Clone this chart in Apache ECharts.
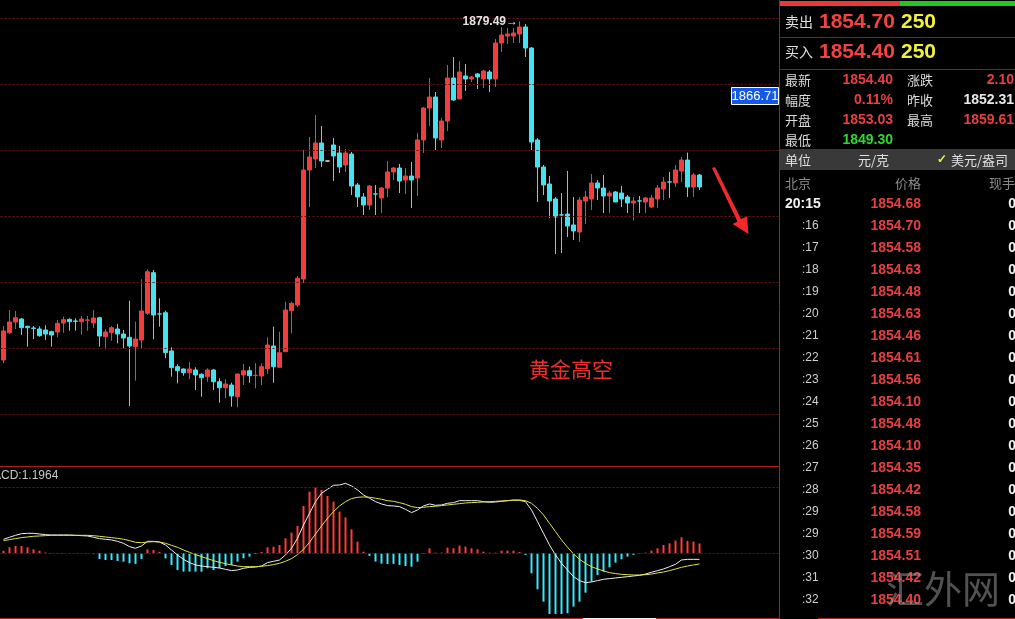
<!DOCTYPE html>
<html><head><meta charset="utf-8">
<script src="https://cdn.jsdelivr.net/npm/echarts/dist/echarts.min.js"></script>
<style>html,body{margin:0;padding:0;background:#000;overflow:hidden}#c{width:1015px;height:619px}</style>
</head><body><div id="c"></div>
<script>
// ---------- candle data (price) ----------
const opens = [1828.18,1832.32,1833.94,1834.39,1833.29,1833.03,1832.88,1832.73,1832.47,1832.42,
1833.79,1834.35,1834.09,1833.98,1834.22,1833.79,1834.59,1831.71,1832.32,1832.88,
1832.12,1831.62,1830.20,1831.21,1835.26,1841.41,1835.17,1835.35,1829.55,1827.17,
1826.82,1826.26,1826.67,1826.02,1825.65,1826.67,1824.89,1823.98,1824.39,1822.62,
1825.91,1826.56,1825.84,1825.76,1826.86,1830.30,1827.08,1829.44,1835.65,1836.52,
1840.45,1856.97,1858.64,1861.06,1858.33,1860.76,1859.55,1857.73,1859.39,1854.70,
1852.88,1851.67,1853.35,1852.73,1854.24,1856.67,1857.27,1855.45,1856.06,1855.76,
1861.52,1866.36,1868.03,1861.52,1864.39,1870.91,1867.73,1871.21,1870.76,1871.52,
1870.76,1871.82,1870.76,1876.21,1877.27,1877.27,1877.58,1878.64,1875.45,1861.52,
1857.42,1854.85,1852.58,1850.17,1850.30,1848.64,1847.58,1852.27,1852.58,1855.00,
1854.24,1853.03,1853.64,1853.48,1852.88,1851.97,1852.29,1852.12,1851.36,1852.58,
1854.09,1855.17,1855.00,1856.82,1858.48,1854.39,1856.21];
const closes = [1832.58,1833.94,1834.59,1833.08,1833.08,1832.97,1831.86,1832.12,1831.97,1833.74,
1834.29,1833.98,1834.05,1834.39,1834.24,1834.55,1831.82,1832.42,1833.08,1832.12,
1831.52,1830.30,1831.36,1835.61,1841.56,1835.00,1835.15,1829.29,1827.02,1826.56,
1826.26,1826.82,1825.91,1825.50,1826.67,1824.89,1823.98,1824.55,1822.73,1826.06,
1826.56,1825.80,1825.86,1827.17,1830.45,1827.17,1829.29,1835.76,1836.77,1840.56,
1856.97,1858.94,1861.06,1858.33,1858.33,1859.09,1857.42,1859.55,1854.55,1852.88,
1851.67,1854.55,1853.33,1854.24,1856.67,1857.27,1855.30,1856.06,1855.45,1861.52,
1866.36,1868.03,1861.82,1864.39,1870.91,1867.58,1871.82,1870.76,1871.06,1871.06,
1871.97,1870.76,1876.21,1877.42,1877.58,1877.73,1878.64,1875.45,1861.21,1857.42,
1854.70,1852.27,1849.85,1850.15,1848.48,1847.73,1852.42,1852.88,1855.00,1854.24,
1853.03,1853.48,1852.12,1852.58,1851.97,1852.27,1852.27,1852.73,1852.73,1854.24,
1855.15,1855.15,1856.97,1858.48,1854.39,1856.21,1854.40];
const lows = [1827.73,1832.12,1832.88,1831.97,1830.20,1831.36,1831.71,1831.21,1830.20,1831.62,
1832.32,1832.62,1832.62,1832.02,1832.62,1833.03,1830.20,1829.80,1831.11,1830.71,
1829.95,1821.21,1825.05,1829.85,1835.00,1831.32,1833.23,1828.44,1825.65,1824.65,
1825.80,1825.26,1823.64,1822.62,1824.89,1823.64,1821.71,1822.38,1821.11,1821.02,
1824.39,1824.74,1823.89,1824.39,1826.06,1824.74,1827.08,1829.44,1832.23,1836.21,
1839.85,1851.36,1857.27,1857.42,1858.33,1855.30,1856.52,1856.67,1853.18,1851.36,
1850.15,1850.91,1850.15,1850.45,1852.88,1855.45,1853.48,1853.33,1851.21,1853.03,
1859.55,1863.64,1860.00,1860.30,1862.88,1867.42,1867.73,1868.94,1870.30,1869.24,
1869.39,1868.79,1869.55,1874.85,1876.06,1876.21,1876.21,1874.09,1860.00,1852.12,
1853.18,1849.70,1844.24,1844.39,1846.82,1846.36,1846.06,1848.79,1850.91,1852.42,
1850.45,1850.45,1852.12,1851.36,1850.45,1849.30,1850.45,1850.45,1851.21,1851.21,
1852.42,1852.73,1854.39,1855.15,1852.88,1852.88,1853.94];
const highs = [1833.33,1835.76,1835.61,1834.55,1833.38,1833.33,1833.29,1833.44,1832.62,1834.24,
1834.74,1834.50,1834.50,1834.85,1834.85,1835.76,1834.74,1832.88,1833.33,1833.64,
1832.73,1837.17,1833.98,1840.41,1841.92,1841.82,1837.53,1835.65,1830.11,1827.53,
1826.92,1827.88,1827.08,1826.17,1826.92,1826.82,1825.41,1825.26,1824.74,1826.10,
1827.58,1827.17,1827.68,1827.68,1831.62,1833.23,1832.47,1837.02,1837.02,1840.91,
1860.00,1861.97,1865.30,1863.64,1858.33,1861.82,1860.61,1860.15,1859.70,1855.00,
1853.48,1854.70,1854.70,1854.39,1858.33,1857.42,1857.88,1857.27,1858.18,1862.58,
1866.52,1870.91,1868.79,1864.85,1872.88,1874.09,1873.48,1873.03,1871.21,1871.67,
1872.12,1872.12,1876.82,1878.64,1878.48,1878.48,1879.49,1879.09,1875.60,1861.82,
1857.73,1856.06,1852.88,1853.48,1856.82,1852.88,1852.88,1853.79,1856.36,1855.45,
1856.21,1853.79,1853.79,1854.55,1853.18,1852.88,1853.03,1852.88,1853.18,1854.70,
1855.91,1856.67,1857.73,1858.94,1859.61,1856.52,1856.36];
const priceGridLines = [1820,1830,1840,1850,1860,1870,1880];
const cursorPrice = 1866.71;

// ---------- MACD data ----------
const difLine = [1.70,1.94,2.18,2.38,2.42,2.42,2.34,2.26,2.22,2.22,
2.22,2.22,2.18,2.14,2.10,1.94,1.78,1.70,1.62,1.45,
1.21,0.81,0.61,0.89,1.45,1.45,1.37,1.01,0.40,-0.20,
-0.73,-1.13,-1.41,-1.54,-1.62,-1.70,-1.78,-1.94,-2.10,-2.02,
-1.82,-1.70,-1.66,-1.54,-1.13,-0.97,-0.81,-0.20,0.61,1.82,
3.43,4.85,6.26,7.27,7.76,8.24,8.28,8.48,8.16,7.68,
7.07,6.67,6.26,5.98,5.78,5.74,5.66,5.33,4.93,5.25,
5.74,5.98,5.82,5.86,6.06,6.14,6.38,6.38,6.38,6.38,
6.26,6.18,6.22,6.30,6.38,6.46,6.42,6.26,5.25,3.84,
2.42,1.01,-0.20,-1.21,-2.02,-2.83,-3.31,-3.56,-3.47,-3.31,
-3.15,-3.07,-2.99,-2.91,-2.83,-2.75,-2.67,-2.51,-2.30,-2.10,
-1.90,-1.62,-1.33,-0.81,-0.73,-0.73,-0.73];
const deaLine = [1.54,1.66,1.78,1.90,1.98,2.06,2.10,2.14,2.18,2.18,
2.18,2.18,2.18,2.18,2.18,2.14,2.06,1.98,1.90,1.82,
1.70,1.54,1.33,1.29,1.37,1.41,1.37,1.21,0.97,0.73,
0.40,0.12,-0.16,-0.40,-0.65,-0.89,-1.09,-1.25,-1.41,-1.54,
-1.62,-1.62,-1.62,-1.58,-1.49,-1.37,-1.21,-0.97,-0.65,-0.16,
0.48,1.33,2.34,3.31,4.24,5.05,5.74,6.26,6.63,6.79,
6.83,6.79,6.67,6.55,6.38,6.30,6.14,5.94,5.66,5.54,
5.58,5.66,5.70,5.78,5.86,5.94,6.02,6.10,6.14,6.18,
6.22,6.26,6.30,6.34,6.38,6.42,6.46,6.38,6.06,5.45,
4.65,3.64,2.63,1.62,0.73,-0.08,-0.73,-1.21,-1.62,-1.90,
-2.14,-2.34,-2.46,-2.55,-2.59,-2.63,-2.63,-2.59,-2.51,-2.38,
-2.26,-2.10,-1.90,-1.70,-1.54,-1.41,-1.29];
const macdHist = [0.30,0.73,0.89,0.89,0.73,0.48,0.32,0.10,0.05,0.04,
0.04,0.03,0.02,0.02,0.01,-0.10,-0.69,-0.81,-0.81,-0.93,
-1.01,-1.21,-1.29,-0.69,0.48,0.40,0.16,-0.61,-1.41,-2.02,
-2.22,-2.22,-2.22,-2.22,-1.82,-2.02,-1.82,-1.54,-1.41,-1.01,
-0.61,-0.40,-0.08,0.16,0.73,0.81,1.01,1.82,2.50,3.31,
5.74,7.47,7.96,7.68,6.95,6.26,5.05,4.36,2.91,1.41,
0.20,-0.32,-1.01,-1.25,-1.29,-1.29,-1.41,-1.54,-1.62,-1.01,
-0.05,0.61,0.08,0.08,0.69,0.61,0.93,0.81,0.61,0.48,
0.20,0.08,0.08,0.32,0.32,0.32,0.16,-0.20,-2.42,-4.36,
-5.86,-7.35,-7.35,-7.35,-7.27,-6.46,-5.86,-4.77,-3.43,-2.63,
-2.22,-1.70,-1.13,-0.73,-0.40,-0.20,-0.04,0.08,0.32,0.61,
1.01,1.21,1.54,1.94,1.50,1.41,1.1964];
const macdGridLines = [0, 8];

// ---------- quote panel data ----------
const askPrice = '1854.70', askVol = '250';
const bidPrice = '1854.40', bidVol = '250';
const quoteLabels = [['最新','涨跌'],['幅度','昨收'],['开盘','最高'],['最低','']];
const quoteValues = [['1854.40','2.10'],['0.11%','1852.31'],['1853.03','1859.61'],['1849.30','']];
const quoteColors = [['#e84040','#e84040'],['#e84040','#e8e8e8'],['#e84040','#e84040'],['#2ed82e','']];
const tickTimes = ['20:15',':16',':17',':18',':19',':20',':21',':22',':23',':24',':25',':26',':27',':28',':29',':29',':30',':31',':32'];
const tickPrices = ['1854.68','1854.70','1854.58','1854.63','1854.48','1854.63','1854.46','1854.61','1854.56','1854.10','1854.48','1854.10','1854.35','1854.42','1854.58','1854.59','1854.51','1854.42','1854.40'];
const tickVols = ['0','0','0','0','0','0','0','0','0','0','0','0','0','0','0','0','0','0','0'];

// ---------- build ----------
const RED = '#f03e3e', CYAN = '#45e2ef';
const slotCount = 130;
const xLabels = Array.from({length: slotCount}, (_, i) => 'k' + (i + 1));
const candleData = opens.map((o, i) => {
  const item = {value: [o, closes[i], lows[i], highs[i]]};
  if (o === closes[i]) item.itemStyle = {color: '#eeeeee', borderColor: '#eeeeee', borderColorDoji: '#eeeeee'};
  return item;
});
const macdData = macdHist.map(v => ({value: v, itemStyle: {color: v >= 0 ? '#ff3a3a' : '#30eaff'}}));
let maxIdx = 0;
highs.forEach((h, i) => { if (h > highs[maxIdx]) maxIdx = i; });

const CJK = '"Noto Sans CJK SC", sans-serif';
const NUM = '"Liberation Sans", Arial, sans-serif';
const g = [];
function txt(x, y, text, fill, font, align, z) {
  g.push({type: 'text', x: x, y: y, z: z || 100, silent: true,
    style: {text: text, fill: fill, font: font, align: align || 'left', verticalAlign: 'middle'}});
}
function hline(x1, x2, y, color) {
  g.push({type: 'line', z: 99, silent: true, shape: {x1: x1, y1: y, x2: x2, y2: y}, style: {stroke: color, lineWidth: 1}});
}
// right panel background
g.push({type: 'rect', z: 98, silent: true, shape: {x: 779, y: 0, width: 236, height: 619}, style: {fill: '#000'}});
g.push({type: 'line', z: 99, silent: true, shape: {x1: 779.5, y1: 0, x2: 779.5, y2: 619}, style: {stroke: '#a81c1c', lineWidth: 1}});
g.push({type: 'rect', z: 99, silent: true, shape: {x: 780, y: 1, width: 120, height: 5}, style: {fill: '#e8383a'}});
g.push({type: 'rect', z: 99, silent: true, shape: {x: 900, y: 1, width: 115, height: 5}, style: {fill: '#22c81e'}});
txt(785, 22, '卖出', '#e0e0e0', '14px ' + CJK);
txt(819, 22, askPrice, '#f24242', 'bold 21px ' + NUM);
txt(901, 22, askVol, '#f2f23a', 'bold 21px ' + NUM);
hline(780, 1015, 37.5, '#8c1a1a');
txt(785, 52, '买入', '#e0e0e0', '14px ' + CJK);
txt(819, 52, bidPrice, '#f24242', 'bold 21px ' + NUM);
txt(901, 52, bidVol, '#f2f23a', 'bold 21px ' + NUM);
hline(780, 1015, 69.5, '#8c1a1a');
quoteLabels.forEach((row, r) => {
  const y = 80 + r * 20;
  txt(785, y, row[0], '#dcdcdc', '13px ' + CJK);
  txt(893, y, quoteValues[r][0], quoteColors[r][0], 'bold 14px ' + NUM, 'right');
  if (row[1]) {
    txt(907, y, row[1], '#dcdcdc', '13px ' + CJK);
    txt(1014, y, quoteValues[r][1], quoteColors[r][1], 'bold 14px ' + NUM, 'right');
  }
});
g.push({type: 'rect', z: 99, silent: true, shape: {x: 780, y: 149, width: 235, height: 21}, style: {fill: '#393939'}});
txt(785, 160, '单位', '#e0e0e0', '13px ' + CJK);
txt(858, 160, '元/克', '#e0e0e0', '13px ' + CJK);
txt(937, 160, '✓', '#f0f040', 'bold 12px ' + NUM);
txt(951, 160, '美元/盎司', '#e0e0e0', '13px ' + CJK);
txt(785, 183, '北京', '#8a8a8a', '13px ' + CJK);
txt(921, 183, '价格', '#8a8a8a', '13px ' + CJK, 'right');
txt(1015, 183, '现手', '#8a8a8a', '13px ' + CJK, 'right');
tickTimes.forEach((t, i) => {
  const y = 204 + i * 22;
  if (i === 0) txt(785, y, t, '#f0f0f0', 'bold 14px ' + NUM);
  else txt(802, y, t, '#cfcfcf', '12px ' + NUM);
  txt(921, y, tickPrices[i], '#e84040', 'bold 14px ' + NUM, 'right');
  txt(1016, y, tickVols[i], '#f0f0f0', 'bold 14px ' + NUM, 'right');
});
txt(886, 589, '汇外网', 'rgba(150,150,150,0.55)', '38px ' + CJK);
// separators
hline(0, 779, 466.5, '#b01e1e');
hline(0, 583, 618.5, '#b01e1e');
hline(583, 656, 618.5, '#f0f0f0');
hline(656, 779, 618.5, '#b01e1e');
hline(818, 1015, 618.5, '#b01e1e');
// MACD title
txt(-17, 476, 'MACD:' + macdHist[macdHist.length - 1].toFixed(4), '#c8c8c8', '12px ' + NUM);
// cursor price box
g.push({type: 'rect', z: 101, silent: true, shape: {x: 731.5, y: 87.5, width: 47, height: 17}, style: {fill: '#1658e6', stroke: '#ffffff', lineWidth: 1}});
txt(755, 96.5, cursorPrice.toFixed(2), '#ffffff', '13px ' + NUM, 'center', 102);
// annotation text and arrow
txt(529, 369, '黄金高空', '#e8302c', '21px ' + CJK);
g.push({type: 'polygon', z: 100, silent: true, shape: {points: [[712, 168], [715, 167], [741, 219], [747, 216.5], [748.5, 234], [732.5, 224], [737.5, 221.5]]}, style: {fill: '#f02a2a'}});

const dotted = {color: '#6e1212', type: [2, 2], width: 1};
const option = {
  backgroundColor: '#000',
  animation: false,
  grid: [
    {left: 0.5, top: 0, width: 780, height: 465},
    {left: 0.5, top: 466, width: 780, height: 152}
  ],
  xAxis: [
    {type: 'category', gridIndex: 0, data: xLabels, show: false, boundaryGap: true},
    {type: 'category', gridIndex: 1, data: xLabels, show: false, boundaryGap: true}
  ],
  yAxis: [
    {type: 'value', gridIndex: 0, min: 1812.273, max: 1882.727, show: false, splitLine: {show: false}},
    {type: 'value', gridIndex: 1, min: -7.84, max: 10.58, show: false, splitLine: {show: false}}
  ],
  series: [
    {
      type: 'candlestick', xAxisIndex: 0, yAxisIndex: 0, barWidth: 4,
      data: candleData,
      itemStyle: {color: RED, color0: CYAN, borderColor: RED, borderColor0: CYAN, borderWidth: 1},
      markLine: {silent: true, symbol: 'none', label: {show: false}, lineStyle: dotted,
        data: priceGridLines.map(v => ({yAxis: v}))},
      markPoint: {silent: true, symbol: 'circle', symbolSize: 1, itemStyle: {color: 'rgba(0,0,0,0)'},
        label: {show: true, position: 'left', distance: 1, color: '#e4e4e4', fontSize: 12, fontWeight: 'bold', fontFamily: NUM,
          formatter: () => highs[maxIdx].toFixed(2) + '→'},
        data: [{coord: [xLabels[maxIdx], highs[maxIdx]]}]}
    },
    {
      type: 'bar', xAxisIndex: 1, yAxisIndex: 1, barWidth: 2, data: macdData, large: false,
      itemStyle: {borderWidth: 0},
      markLine: {silent: true, symbol: 'none', label: {show: false}, lineStyle: dotted,
        data: macdGridLines.map(v => ({yAxis: v}))}
    },
    {type: 'line', xAxisIndex: 1, yAxisIndex: 1, data: difLine, symbol: 'none', lineStyle: {color: '#eeeeee', width: 1}, z: 3},
    {type: 'line', xAxisIndex: 1, yAxisIndex: 1, data: deaLine, symbol: 'none', lineStyle: {color: '#e2e24a', width: 1}, z: 3}
  ],
  graphic: g
};
const chart = echarts.init(document.getElementById('c'), null, {renderer: 'canvas'});
chart.setOption(option);
</script>
</body></html>
